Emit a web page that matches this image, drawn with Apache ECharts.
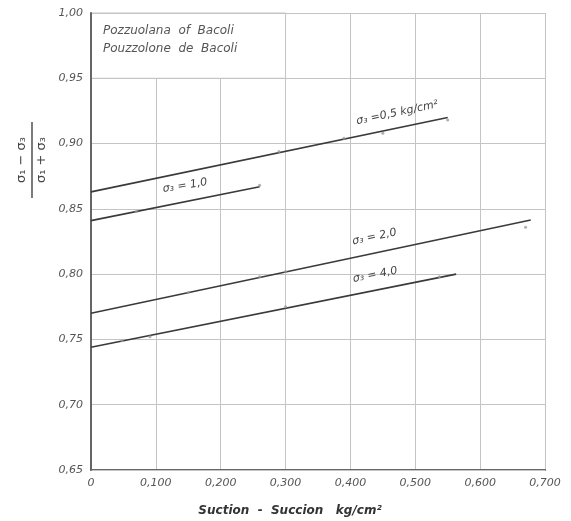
<!DOCTYPE html>
<html>
<head>
<meta charset="utf-8">
<script src="https://cdn.jsdelivr.net/npm/echarts@6/dist/echarts.min.js"></script>
<style>
    html, body { margin: 0; padding: 0; background: #fff; }
    #chart { width: 571px; height: 521px; }
</style>
</head>
<body>
<div id="chart"></div>
<script>
    // fitted lines: [x, y] start and end
    const line05 = [[0, 0.863], [0.55, 0.920]];
    const line10 = [[0, 0.841], [0.26, 0.867]];
    const line20 = [[0, 0.770], [0.678, 0.8415]];
    const line40 = [[0, 0.744], [0.563, 0.800]];
    // measured points (small marks on the lines)
    const pts05 = [[0.29, 0.894], [0.39, 0.904], [0.45, 0.908], [0.55, 0.918]];
    const pts10 = [[0.07, 0.848], [0.26, 0.868]];
    const pts20 = [[0.15, 0.786], [0.26, 0.798], [0.30, 0.802], [0.67, 0.836]];
    const pts40 = [[0.048, 0.749], [0.091, 0.752], [0.30, 0.775], [0.537, 0.798]];
    const xLabels = ['0', '0,100', '0,200', '0,300', '0,400', '0,500', '0,600', '0,700'];
    const yLabels = ['0,65', '0,70', '0,75', '0,80', '0,85', '0,90', '0,95', '1,00'];
    // line labels: text, anchor [x, y], angle in degrees
    const lineLabels = [
        ['σ₃ =0,5 kg/cm²', [0.472, 0.9235], 12],
        ['σ₃ = 1,0', [0.145, 0.8678], 9],
        ['σ₃ = 2,0', [0.437, 0.8285], 12],
        ['σ₃ = 4,0', [0.438, 0.7995], 11]
    ];
    const boxText = ['Pozzuolana  of  Bacoli', 'Pouzzolone  de  Bacoli'];

    const font = 'DejaVu Sans';
    const ink = '#3a3a3a';
    const gridCol = '#c4c4c4';

    const chart = echarts.init(document.getElementById('chart'));

    function lineSeries(d) {
        return {
            type: 'line', data: d, symbol: 'none', silent: true,
            lineStyle: { color: ink, width: 1.6 }, z: 4
        };
    }
    function ptSeries(d) {
        return {
            type: 'scatter', data: d, symbolSize: 3, silent: true,
            itemStyle: { color: '#9a9a9a' }, z: 5
        };
    }

    chart.setOption({
        animation: false,
        grid: { left: 91, right: 26, top: 13, bottom: 51 },
        xAxis: {
            type: 'value', min: 0, max: 0.7, interval: 0.1,
            axisLine: { lineStyle: { color: '#666', width: 2 } },
            axisTick: { show: false },
            axisLabel: {
                color: '#555', fontFamily: font, fontStyle: 'italic', fontSize: 11, margin: 8,
                formatter: v => xLabels[Math.round(v / 0.1)]
            },
            splitLine: { show: true, lineStyle: { color: gridCol, width: 1 } }
        },
        yAxis: {
            type: 'value', min: 0.65, max: 1.0, interval: 0.05, z: 3,
            axisLine: { show: true, lineStyle: { color: '#666', width: 2 } },
            axisTick: { show: false },
            axisLabel: {
                color: '#555', fontFamily: font, fontStyle: 'italic', fontSize: 11, margin: 8,
                formatter: v => yLabels[Math.round((v - 0.65) / 0.05)]
            },
            splitLine: { show: true, lineStyle: { color: gridCol, width: 1 } }
        },
        series: [
            Object.assign(lineSeries(line05), {
                markArea: {
                    silent: true,
                    itemStyle: { color: '#fff', borderColor: gridCol, borderWidth: 1 },
                    data: [[{ coord: [0, 0.95] }, { coord: [0.3, 1.0] }]]
                }
            }),
            lineSeries(line10),
            lineSeries(line20),
            lineSeries(line40),
            ptSeries(pts05),
            ptSeries(pts10),
            ptSeries(pts20),
            ptSeries(pts40)
        ]
    });

    // annotations placed through the axes' scales
    const px = p => chart.convertToPixel({ gridIndex: 0 }, p);
    const graphics = [];
    lineLabels.forEach(l => {
        const p = px(l[1]);
        graphics.push({
            type: 'text', x: p[0], y: p[1], rotation: l[2] * Math.PI / 180, z: 10,
            style: {
                text: l[0], fill: '#444', font: 'italic 11px "' + font + '"',
                align: 'center', verticalAlign: 'middle'
            }
        });
    });
    const b0 = px([0, 1.0]);
    boxText.forEach((t, i) => {
        graphics.push({
            type: 'text', x: b0[0] + 12, y: b0[1] + 18 + i * 18, z: 10,
            style: {
                text: t, fill: '#555', font: 'italic 12px "' + font + '"',
                align: 'left', verticalAlign: 'middle'
            }
        });
    });
    // x axis title
    graphics.push({
        type: 'text', x: 290, y: 511, z: 10,
        style: {
            text: 'Suction  -  Succion   kg/cm²', fill: '#333',
            font: 'italic bold 12px "' + font + '"', align: 'center', verticalAlign: 'middle'
        }
    });
    // y axis title as a fraction, rotated
    graphics.push({
        type: 'group', x: 32, y: 160, rotation: Math.PI / 2, z: 10,
        children: [
            { type: 'text', x: 0, y: -10, style: { text: 'σ₁ − σ₃', fill: '#444', font: '13px "' + font + '"', align: 'center', verticalAlign: 'middle' } },
            { type: 'line', shape: { x1: -38, y1: 0, x2: 38, y2: 0 }, style: { stroke: '#444', lineWidth: 1.4 } },
            { type: 'text', x: 0, y: 10, style: { text: 'σ₁ + σ₃', fill: '#444', font: '13px "' + font + '"', align: 'center', verticalAlign: 'middle' } }
        ]
    });
    chart.setOption({ graphic: graphics });
</script>
</body>
</html>
